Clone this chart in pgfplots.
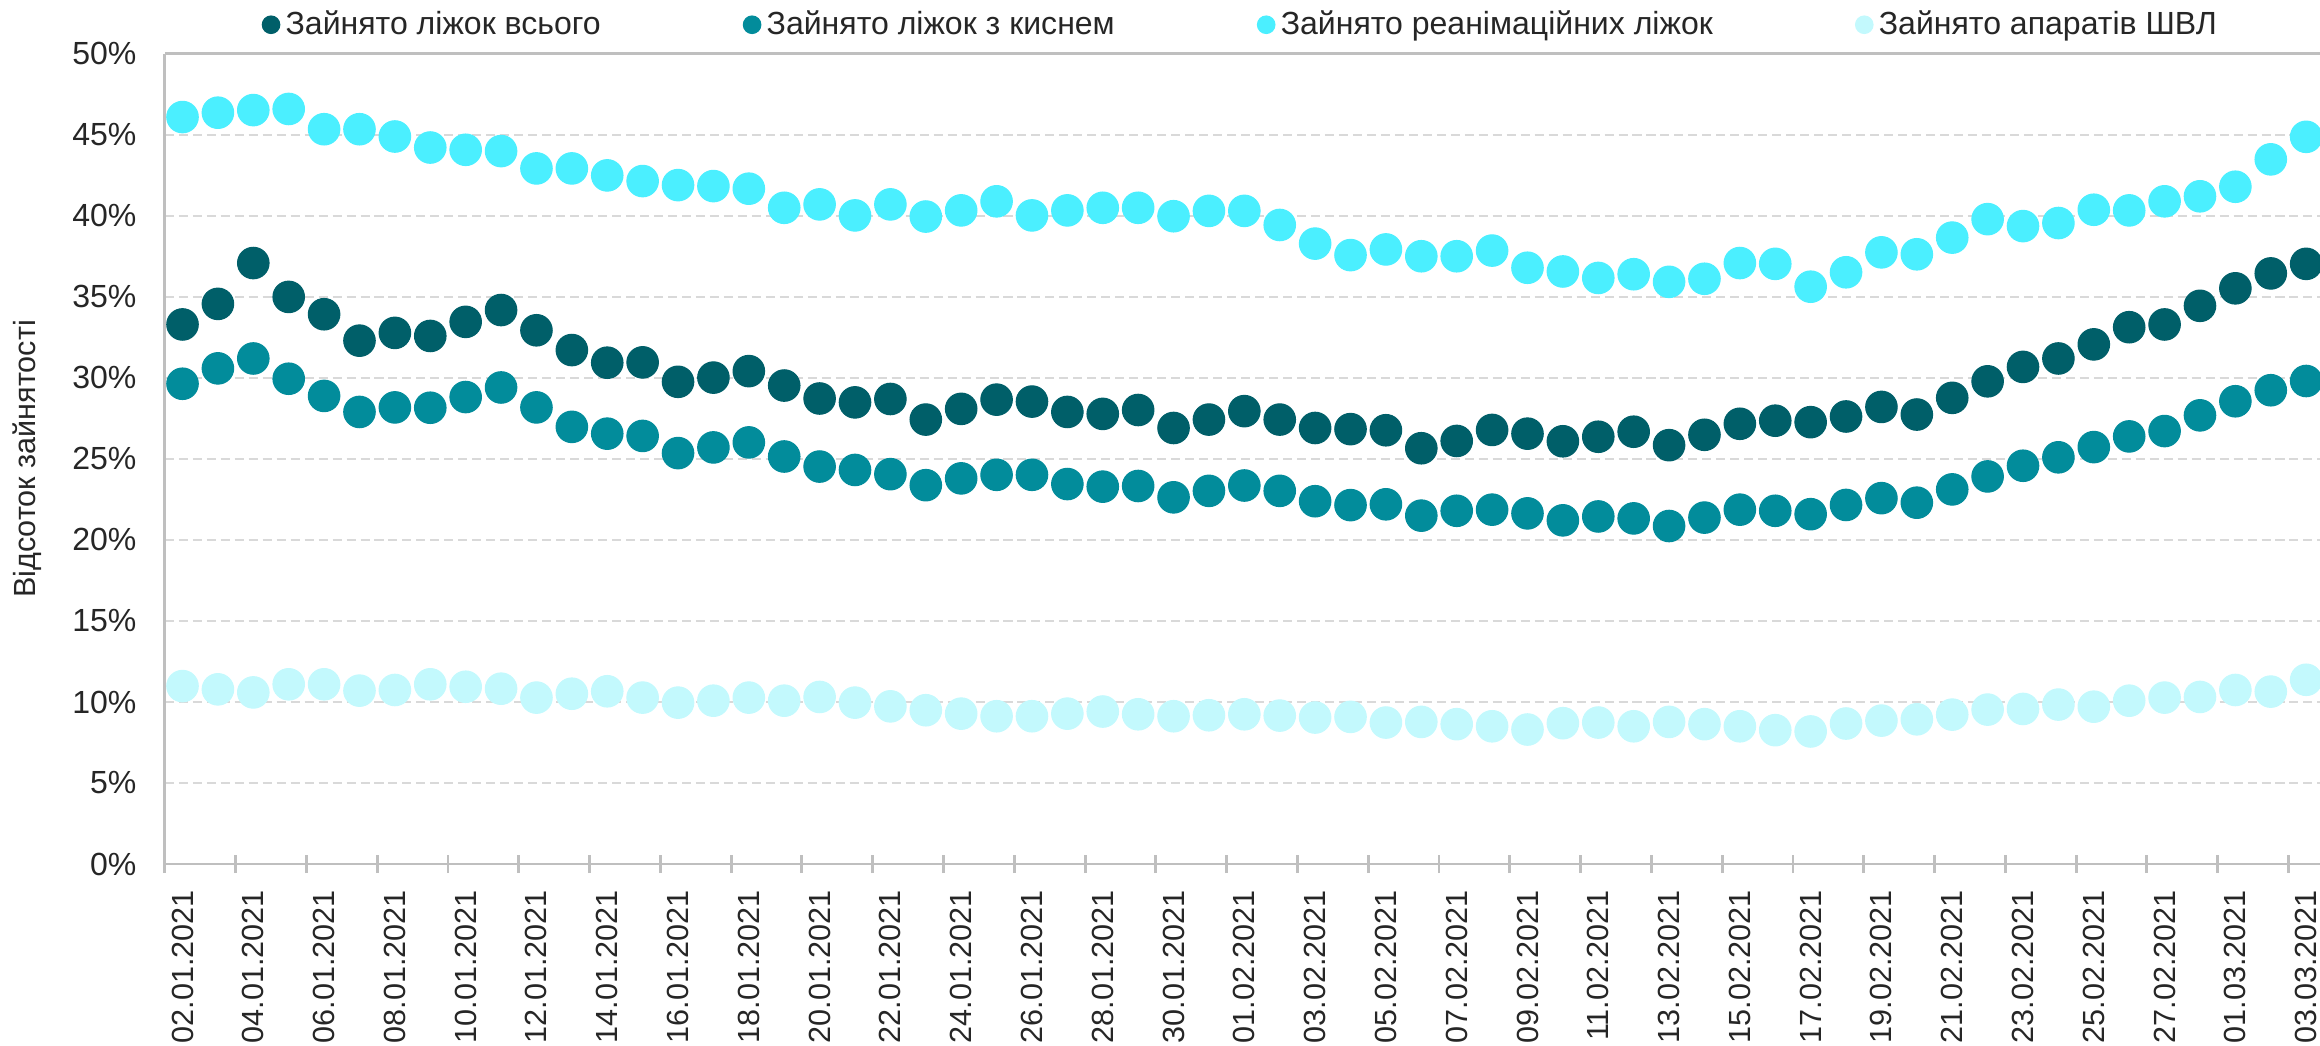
\documentclass[border=0pt]{standalone}
\usepackage{fontspec}
\setmainfont{Liberation Sans}
\usepackage{pgfplots}
\usepackage{pgfplotstable}
\pgfplotsset{compat=1.18}

\definecolor{cTotal}{HTML}{005F69}
\definecolor{cOxy}{HTML}{028C9B}
\definecolor{cICU}{HTML}{4BEFFF}
\definecolor{cVent}{HTML}{C3F9FD}
\definecolor{axisgray}{HTML}{BFBFBF}
\definecolor{gridgray}{HTML}{D9D9D9}
\definecolor{txt}{HTML}{262626}

% k = day index from 02.01.2021; D = all beds, T = oxygen beds, C = ICU beds, L = ventilators (%)
\pgfplotstableread{
k  D      T      C      L
0  33.30  29.64  46.10  10.98
1  34.57  30.59  46.37  10.78
2  37.09  31.20  46.53  10.59
3  35.00  29.95  46.60  11.09
4  33.93  28.89  45.35  11.09
5  32.30  27.90  45.35  10.70
6  32.78  28.18  44.90  10.74
7  32.59  28.16  44.22  11.09
8  33.46  28.82  44.08  10.94
9  34.19  29.41  44.00  10.82
10 32.94  28.18  42.93  10.27
11 31.72  26.98  42.93  10.51
12 30.94  26.56  42.50  10.66
13 30.96  26.42  42.15  10.27
14 29.76  25.36  41.90   9.96
15 30.02  25.71  41.84  10.08
16 30.42  26.02  41.68  10.27
17 29.53  25.15  40.50  10.08
18 28.73  24.53  40.71  10.31
19 28.49  24.32  40.03   9.96
20 28.70  24.06  40.71   9.73
21 27.43  23.38  39.96   9.49
22 28.09  23.80  40.34   9.28
23 28.66  24.02  40.90   9.12
24 28.54  24.02  40.03   9.12
25 27.90  23.45  40.34   9.28
26 27.78  23.29  40.50   9.41
27 28.02  23.33  40.50   9.24
28 26.91  22.63  39.98   9.12
29 27.43  23.03  40.31   9.18
30 27.95  23.36  40.31   9.24
31 27.43  23.03  39.44   9.16
32 26.91  22.39  38.29   9.04
33 26.84  22.15  37.58   9.08
34 26.77  22.20  37.93   8.73
35 25.66  21.50  37.51   8.77
36 26.11  21.80  37.51   8.63
37 26.79  21.87  37.86   8.50
38 26.56  21.64  36.80   8.30
39 26.09  21.21  36.57   8.69
40 26.37  21.45  36.17   8.73
41 26.68  21.33  36.40   8.50
42 25.85  20.86  35.93   8.77
43 26.49  21.38  36.12   8.63
44 27.17  21.87  37.09   8.50
45 27.36  21.80  37.04   8.26
46 27.27  21.59  35.63   8.18
47 27.62  22.16  36.52   8.67
48 28.21  22.58  37.75   8.85
49 27.74  22.30  37.63   8.93
50 28.77  23.12  38.66   9.22
51 29.79  23.92  39.80   9.53
52 30.68  24.58  39.37   9.57
53 31.20  25.10  39.56   9.84
54 32.07  25.73  40.38   9.71
55 33.13  26.39  40.34  10.08
56 33.30  26.72  40.90  10.27
57 34.45  27.69  41.21  10.31
58 35.53  28.56  41.80  10.74
59 36.45  29.24  43.49  10.64
60 37.04  29.81  44.88  11.37
}\beds

\begin{document}
\begin{tikzpicture}
\begin{axis}[
    scale only axis,
    width=740.2pt, height=278.2pt,
    xmin=-0.5, xmax=60.4,
    ymin=0, ymax=50,
    axis x line*=box, axis y line*=left,
    axis line style={axisgray, line width=1pt},
    tick pos=left,
    tick align=center,
    major tick length=0pt,
    minor tick length=6.2pt,
    minor tick style={axisgray, line width=1pt},
    xtick={0,2,...,60},
    minor xtick={-0.5,1.5,...,59.5},
    xticklabels={02.01.2021,04.01.2021,06.01.2021,08.01.2021,10.01.2021,12.01.2021,
        14.01.2021,16.01.2021,18.01.2021,20.01.2021,22.01.2021,24.01.2021,26.01.2021,
        28.01.2021,30.01.2021,01.02.2021,03.02.2021,05.02.2021,07.02.2021,09.02.2021,
        11.02.2021,13.02.2021,15.02.2021,17.02.2021,19.02.2021,21.02.2021,23.02.2021,
        25.02.2021,27.02.2021,01.03.2021,03.03.2021},
    xticklabel style={rotate=90, anchor=east, font=\fontsize{10.5}{12}\selectfont, text=txt},
    xticklabel shift=5.4pt,
    ytick={0,5,...,50},
    yticklabels={0\%,5\%,10\%,15\%,20\%,25\%,30\%,35\%,40\%,45\%,50\%},
    yticklabel style={font=\fontsize{11}{13}\selectfont, text=txt},
    yticklabel shift=6.2pt,
    ymajorgrids,
    major grid style={gridgray, line width=0.7pt, dash pattern=on 3.1pt off 1.7pt},
    ylabel={Відсоток зайнятості},
    every axis y label/.style={at={(rel axis cs:0,0.5)}, xshift=-47.3pt, rotate=90,
        anchor=center, font=\fontsize{10.5}{12}\selectfont, text=txt},
    legend columns=4,
    legend cell align=left,
    legend image code/.code={\draw[#1, mark size=3pt] plot coordinates {(0pt,0pt)};},
    legend style={at={(0.5,1)}, anchor=center, yshift=10pt, draw=none, fill=none,
        font=\fontsize{11}{13}\selectfont, text=txt,
        /tikz/every even column/.append style={column sep=47pt}},
]
\addplot[only marks, mark=*, mark size=5.4pt, color=cTotal, draw=cTotal, fill=cTotal]
    table[x=k, y=D]{\beds};
\addlegendentry{Зайнято ліжок всього}
\addplot[only marks, mark=*, mark size=5.4pt, color=cOxy, draw=cOxy, fill=cOxy]
    table[x=k, y=T]{\beds};
\addlegendentry{Зайнято ліжок з киснем}
\addplot[only marks, mark=*, mark size=5.4pt, color=cICU, draw=cICU, fill=cICU]
    table[x=k, y=C]{\beds};
\addlegendentry{Зайнято реанімаційних ліжок}
\addplot[only marks, mark=*, mark size=5.4pt, color=cVent, draw=cVent, fill=cVent]
    table[x=k, y=L]{\beds};
\addlegendentry{Зайнято апаратів ШВЛ}
\coordinate (O) at (rel axis cs:0,0);
\end{axis}
\pgfresetboundingbox
\path (O) ++(-56.6pt,-62.2pt) rectangle ++(796.7pt,358.9pt);
\end{tikzpicture}
\end{document}
